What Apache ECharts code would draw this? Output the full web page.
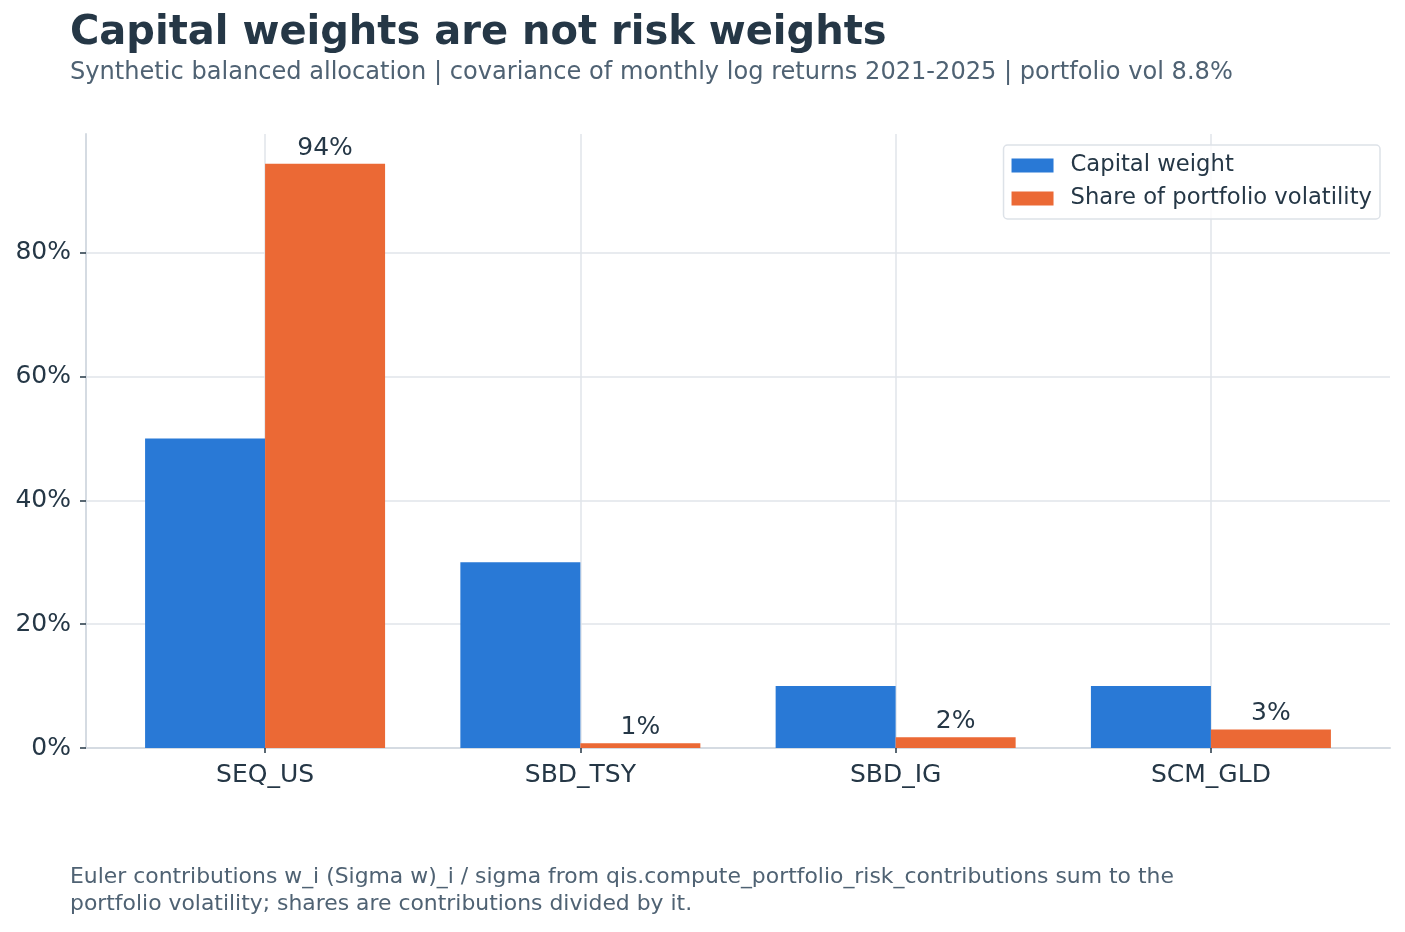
<!DOCTYPE html>
<html>
<head>
<meta charset="utf-8">
<script src="https://cdn.jsdelivr.net/npm/echarts@6/dist/echarts.min.js"></script>
<style>
html,body{margin:0;padding:0;background:#fff;}
#chart{width:1405px;height:932px;}
</style>
</head>
<body>
<div id="chart"></div>
<script>
const categories = ['SEQ_US', 'SBD_TSY', 'SBD_IG', 'SCM_GLD'];
const capitalWeight = [50, 30, 10, 10];
const volShare = [94.4, 0.75, 1.75, 3.0];
const yTicks = [0, 20, 40, 60, 80];
const xPositions = [0, 1, 2, 3];

const FONT = 'DejaVu Sans';
const DARK = '#253746';
const GREY = '#4f6273';
const GRID = '#e0e5ea';
const SPINE = '#d5dbe2';

const chart = echarts.init(document.getElementById('chart'), null, {renderer: 'canvas'});
chart.setOption({
  animation: false,
  backgroundColor: '#ffffff',
  textStyle: {fontFamily: FONT},
  title: [
    {text: 'Capital weights are not risk weights', left: 65, top: 9,
     textStyle: {fontFamily: FONT, fontSize: 40, fontWeight: 'bold', color: DARK}},
    {text: 'Synthetic balanced allocation | covariance of monthly log returns 2021-2025 | portfolio vol 8.8%', left: 65, top: 56,
     textStyle: {fontFamily: FONT, fontSize: 24.1, fontWeight: 'normal', color: GREY}},
    {text: 'Euler contributions w_i (Sigma w)_i / sigma from qis.compute_portfolio_risk_contributions sum to the\nportfolio volatility; shares are contributions divided by it.', left: 65, top: 859,
     textStyle: {fontFamily: FONT, fontSize: 21.9, fontWeight: 'normal', color: GREY, lineHeight: 27}}
  ],
  legend: {
    orient: 'vertical', right: 25, top: 145,
    itemWidth: 42, itemHeight: 14, itemGap: 10,
    padding: [9, 8, 9, 8],
    borderColor: '#dde2e8', borderWidth: 1.5, borderRadius: 4,
    backgroundColor: 'rgba(255,255,255,0.8)',
    textStyle: {fontFamily: FONT, fontSize: 22.7, color: DARK, lineHeight: 23, padding: [0, 0, 0, 12]},
    data: [{name: 'Capital weight', icon: 'rect'}, {name: 'Share of portfolio volatility', icon: 'rect'}]
  },
  grid: {left: 86, right: 15, top: 134, bottom: 184, containLabel: false},
  xAxis: {
    type: 'value', min: -0.568, max: 3.568,
    axisLine: {show: true, onZero: false, lineStyle: {color: SPINE, width: 2}},
    axisTick: {show: true, customValues: xPositions, length: 5, lineStyle: {color: DARK, width: 1.5}},
    axisLabel: {customValues: xPositions, fontFamily: FONT, fontSize: 25, color: DARK, margin: 15,
      formatter: v => categories[Math.round(v)] || ''},
    splitLine: {show: true, lineStyle: {color: GRID, width: 1.5}}
  },
  yAxis: {
    type: 'value', min: 0, max: 99.2,
    axisLine: {show: true, onZero: false, lineStyle: {color: SPINE, width: 2}},
    axisTick: {show: true, customValues: yTicks, length: 6, lineStyle: {color: DARK, width: 1.5}},
    axisLabel: {customValues: yTicks, fontFamily: FONT, fontSize: 25, color: DARK, margin: 15,
      padding: [4, 0, 0, 0], formatter: v => v + '%'},
    splitLine: {show: true, lineStyle: {color: GRID, width: 1.5}}
  },
  series: [
    {name: 'Capital weight', type: 'bar', barWidth: 120, barGap: '0%',
     itemStyle: {color: '#2979d6'},
     data: capitalWeight.map((v, i) => [xPositions[i], v])},
    {name: 'Share of portfolio volatility', type: 'bar', barWidth: 120, barGap: '0%',
     itemStyle: {color: '#eb6935'},
     label: {show: true, position: 'top', distance: 3, fontFamily: FONT, fontSize: 25, color: DARK,
       formatter: p => Math.round(p.value[1]) + '%'},
     data: volShare.map((v, i) => [xPositions[i], v])}
  ]
});
</script>
</body>
</html>
